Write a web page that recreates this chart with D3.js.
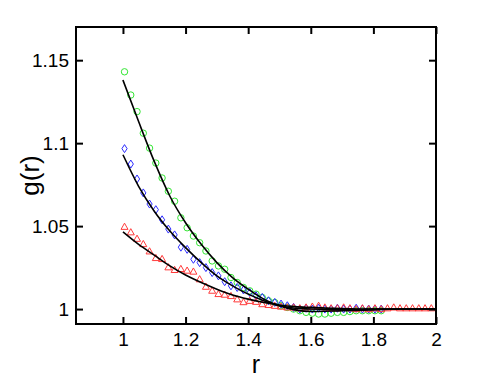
<!DOCTYPE html>
<html><head><meta charset="utf-8">
<script src="https://cdn.jsdelivr.net/npm/d3@7"></script>
<style>body{margin:0;background:#fff}svg{display:block}</style>
</head><body>
<script>
// ---- data ----
const rStart = 1.005, rStep = 0.02;
const greenVals = [1.143,1.129,1.119,1.106,1.097,1.088,1.079,1.071,1.065,1.055,1.049,1.044,1.040,1.035,1.029,1.026,1.024,1.019,1.016,1.013,1.011,1.009,1.007,1.005,1.004,1.002,1.001,1.000,0.999,0.998,0.9975,0.997,0.997,0.9975,0.998,0.998,0.9985,0.999,0.999,0.999,0.999,0.999];
const blueVals = [1.0967,1.0874,1.0784,1.0700,1.0633,1.0599,1.0538,1.0482,1.0447,1.0373,1.036,1.030,1.028,1.025,1.022,1.020,1.0165,1.014,1.013,1.0115,1.010,1.008,1.007,1.005,1.004,1.003,1.002,1.001,1.000,1.0005,1.000,1.0005,1.000,1.000,1.0005,1.000,1.000,1.0005,1.000,1.000,1.000,1.000];
const redVals = [1.0496,1.0463,1.0424,1.0392,1.0348,1.0308,1.0302,1.0252,1.0236,1.0242,1.0232,1.0226,1.0180,1.0135,1.0111,1.0091,1.0087,1.0079,1.0059,1.0042,1.0050,1.0044,1.003,1.0025,1.002,1.0015,1.001,1.001,1.0005,1.001,1.0015,1.002,1.001,1.0005,1.0005,1.001,1.0005,1.000,1.0005,1.000,1.0005,1.000,1.0005,1.001,1.0005,1.0005,1.0005,1.0005,1.0005,1.0005];
const fitR = [1.0,1.05,1.1,1.15,1.2,1.25,1.3,1.35,1.4,1.45,1.5,1.55,1.6,1.7,1.8,1.9,2.0];
const greenFit = [1.138,1.113,1.089,1.068,1.052,1.039,1.028,1.019,1.012,1.006,1.002,0.9995,0.9985,0.999,0.9995,1.0,1.0];
const blueFit = [1.093,1.074,1.059,1.047,1.037,1.028,1.020,1.014,1.009,1.005,1.002,1.0005,1.0,0.9995,1.0,1.0,1.0];
const redFit = [1.0465,1.039,1.0325,1.026,1.0205,1.016,1.012,1.0085,1.006,1.004,1.0025,1.0015,1.001,1.0003,1.0,1.0,1.0];
const xTicks = [1,1.2,1.4,1.6,1.8,2];
const xTickLabels = ["1","1.2","1.4","1.6","1.8","2"];
const yTicks = [1,1.05,1.1,1.15];
const yTickLabels = ["1","1.05","1.1","1.15"];

// ---- chart ----
const W = 482, H = 382;
const L = 76, R = 436, T = 27, B = 324;
const FONT = "Liberation Sans, Arial, sans-serif";
const svg = d3.select("body").append("svg").attr("width", W).attr("height", H);
const x = d3.scaleLinear().domain([0.85, 2]).range([L, R]);
const y = d3.scaleLinear().domain([0.991, 1.17]).range([B, T]);

const pts = vals => vals.map((v, i) => [rStart + rStep * i, v]);

const gPlot = svg.append("g");
// green circles
gPlot.append("g").selectAll("circle").data(pts(greenVals)).join("circle")
  .attr("cx", d => x(d[0])).attr("cy", d => y(d[1])).attr("r", 3.2)
  .attr("fill", "none").attr("stroke", "#33e633").attr("stroke-width", 1);
// blue diamonds
gPlot.append("g").selectAll("path").data(pts(blueVals)).join("path")
  .attr("d", "M0,-4L2.6,0L0,4L-2.6,0Z")
  .attr("transform", d => `translate(${x(d[0])},${y(d[1])})`)
  .attr("fill", "none").attr("stroke", "#2b2bff").attr("stroke-width", 1);
// red triangles
gPlot.append("g").selectAll("path").data(pts(redVals)).join("path")
  .attr("d", "M0,-3.6L3.5,2.6L-3.5,2.6Z")
  .attr("transform", d => `translate(${x(d[0])},${y(d[1])})`)
  .attr("fill", "none").attr("stroke", "#ff3b3b").attr("stroke-width", 1);

// fit lines
const line = d3.line().x(d => x(d[0])).y(d => y(d[1])).curve(d3.curveMonotoneX);
[greenFit, blueFit, redFit].forEach(f => {
  gPlot.append("path").datum(fitR.map((r, i) => [r, f[i]]))
    .attr("d", line).attr("fill", "none").attr("stroke", "#000").attr("stroke-width", 1.6);
});

// axes (ticks inward on all four sides)
const tl = 7;
const ax = svg.append("g");
ax.append("g").attr("transform", `translate(0,${B})`)
  .call(d3.axisBottom(x).tickValues(xTicks).tickFormat((d,i)=>xTickLabels[i]).tickSizeInner(-tl).tickSizeOuter(0))
  .call(g => g.select(".domain").remove())
  .call(g => g.selectAll(".tick text").attr("y", 22).attr("dy", 0));
ax.append("g").attr("transform", `translate(0,${T})`)
  .call(d3.axisTop(x).tickValues(xTicks).tickFormat("").tickSizeInner(-tl).tickSizeOuter(0))
  .call(g => g.select(".domain").remove());
ax.append("g").attr("transform", `translate(${L},0)`)
  .call(d3.axisLeft(y).tickValues(yTicks).tickFormat((d,i)=>yTickLabels[i]).tickSizeInner(-tl).tickSizeOuter(0).tickPadding(7))
  .call(g => g.select(".domain").remove());
ax.append("g").attr("transform", `translate(${R},0)`)
  .call(d3.axisRight(y).tickValues(yTicks).tickFormat("").tickSizeInner(-tl).tickSizeOuter(0))
  .call(g => g.select(".domain").remove());
ax.selectAll(".tick line").attr("stroke", "#000").attr("stroke-width", 2);
ax.selectAll(".tick text").attr("font-size", 19).attr("fill", "#000").attr("font-family", FONT);

svg.append("rect").attr("x", L).attr("y", T).attr("width", R - L).attr("height", B - T)
  .attr("fill", "none").attr("stroke", "#000").attr("stroke-width", 2);

svg.append("text").attr("x", (L + R) / 2).attr("y", 373).attr("text-anchor", "middle")
  .attr("font-family", FONT).attr("font-size", 25).text("r");
svg.append("text").attr("transform", `translate(39,${(T + B) / 2}) rotate(-90)`).attr("text-anchor", "middle")
  .attr("font-family", FONT).attr("font-size", 26).text("g(r)");
</script>
</body></html>
